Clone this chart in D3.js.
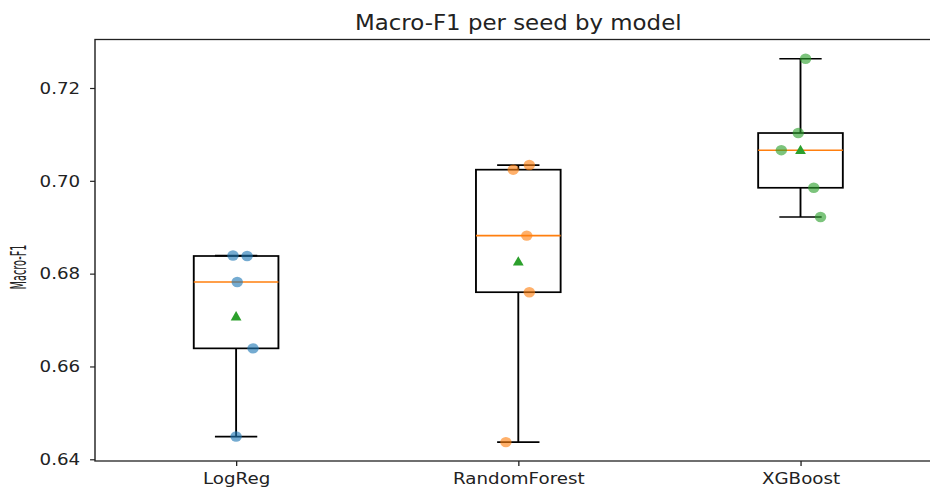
<!DOCTYPE html>
<html>
<head>
<meta charset="utf-8">
<script src="https://cdn.jsdelivr.net/npm/d3@7"></script>
<style>
  html, body { margin: 0; padding: 0; background: #fff; }
  svg { display: block; }
  text { font-family: "DejaVu Sans", sans-serif; fill: #222; }
</style>
</head>
<body>
<div id="chart"></div>
<script>
// per-seed Macro-F1 scores
const models = ["LogReg", "RandomForest", "XGBoost"];
const logregScores = [0.6839, 0.6838, 0.6782, 0.6639, 0.6449];
const forestScores = [0.7034, 0.7024, 0.6882, 0.6760, 0.6437];
const xgbScores = [0.7263, 0.7103, 0.7066, 0.6985, 0.6922];
// horizontal jitter of each seed point, in category units
const logregJitter = [-0.011, 0.039, 0.004, 0.06, 0.0];
const forestJitter = [0.039, -0.018, 0.030, 0.039, -0.044];
const xgbJitter = [0.018, -0.008, -0.068, 0.047, 0.071];
const yTicks = [0.64, 0.66, 0.68, 0.70, 0.72];
const yLimits = [0.63963, 0.73045];
const pointColors = ["#1f77b4", "#ff7f0e", "#2ca02c"];

const scores = [logregScores, forestScores, xgbScores];
const jitters = [logregJitter, forestJitter, xgbJitter];

// the picture is stretched horizontally, so draw in a narrower frame
const sx = 1.1;
const W = 930, H = 489;
const innerW = W / sx;

const svg = d3.select("#chart").append("svg")
  .attr("width", W)
  .attr("height", H)
  .attr("viewBox", `0 0 ${innerW} ${H}`)
  .attr("preserveAspectRatio", "none");

const x = d3.scaleLinear().domain([0.5, 3.5]).range([95 / sx, 941.6 / sx]);
const y = d3.scaleLinear().domain(yLimits).range([461, 39.5]);

const boxW = 0.3, capW = 0.15;

const stats = scores.map((vals, i) => {
  const s = vals.slice().sort(d3.ascending);
  const q1 = d3.quantile(s, 0.25), med = d3.quantile(s, 0.5), q3 = d3.quantile(s, 0.75);
  const iqr = q3 - q1;
  const inside = s.filter((v) => v >= q1 - 1.5 * iqr && v <= q3 + 1.5 * iqr);
  return {
    pos: i + 1, q1, med, q3,
    lo: d3.min(inside), hi: d3.max(inside),
    mean: d3.mean(vals),
  };
});

const g = svg.append("g");

// whiskers and caps
stats.forEach((d) => {
  const bx = g.append("g").attr("stroke", "#000").attr("stroke-width", 1.7).attr("fill", "none");
  bx.append("line").attr("x1", x(d.pos)).attr("x2", x(d.pos)).attr("y1", y(d.q1)).attr("y2", y(d.lo));
  bx.append("line").attr("x1", x(d.pos)).attr("x2", x(d.pos)).attr("y1", y(d.q3)).attr("y2", y(d.hi));
  bx.append("line").attr("x1", x(d.pos - capW / 2)).attr("x2", x(d.pos + capW / 2)).attr("y1", y(d.lo)).attr("y2", y(d.lo));
  bx.append("line").attr("x1", x(d.pos - capW / 2)).attr("x2", x(d.pos + capW / 2)).attr("y1", y(d.hi)).attr("y2", y(d.hi));
  bx.append("rect")
    .attr("x", x(d.pos - boxW / 2))
    .attr("width", x(d.pos + boxW / 2) - x(d.pos - boxW / 2))
    .attr("y", y(d.q3))
    .attr("height", y(d.q1) - y(d.q3));
  g.append("line")
    .attr("x1", x(d.pos - boxW / 2)).attr("x2", x(d.pos + boxW / 2))
    .attr("y1", y(d.med)).attr("y2", y(d.med))
    .attr("stroke", "#ff7f0e").attr("stroke-width", 1.6);
});

// mean markers
const triW = 9.8, triH = 9.4;
g.selectAll(".mean")
  .data(stats)
  .join("path")
  .attr("class", "mean")
  .attr("d", (d) => {
    const cx = x(d.pos), cy = y(d.mean);
    return `M${cx},${cy - triH / 2}L${cx + triW / 2},${cy + triH / 2}L${cx - triW / 2},${cy + triH / 2}Z`;
  })
  .attr("fill", "#2ca02c");

// seed points
scores.forEach((vals, i) => {
  g.selectAll(`.pt${i}`)
    .data(vals.map((v, j) => ({ v, dx: jitters[i][j] })))
    .join("circle")
    .attr("class", `pt${i}`)
    .attr("cx", (d) => x(i + 1 + d.dx))
    .attr("cy", (d) => y(d.v))
    .attr("r", 5.2)
    .attr("fill", pointColors[i])
    .attr("fill-opacity", 0.62);
});

// spines
const frame = svg.append("g").attr("stroke", "#222").attr("stroke-width", 1.3).attr("fill", "none");
frame.append("rect")
  .attr("x", x(0.5)).attr("y", y(yLimits[1]))
  .attr("width", x(3.5) - x(0.5)).attr("height", y(yLimits[0]) - y(yLimits[1]));

// axes
const yAxis = svg.append("g")
  .attr("transform", `translate(${x(0.5)},0)`)
  .call(d3.axisLeft(y).tickValues(yTicks).tickFormat(d3.format(".2f")).tickSize(4.5).tickPadding(9));
const xAxis = svg.append("g")
  .attr("transform", `translate(0,${y(yLimits[0])})`)
  .call(d3.axisBottom(x).tickValues([1, 2, 3]).tickFormat((d) => models[d - 1]).tickSize(5).tickPadding(6.3));

[yAxis, xAxis].forEach((ax) => {
  ax.select(".domain").remove();
  ax.selectAll(".tick line").attr("stroke", "#222").attr("stroke-width", 1.2);
  ax.selectAll(".tick text")
    .style("font-family", "DejaVu Sans, sans-serif")
    .style("font-size", "16.6px")
    .attr("fill", "#222");
});

svg.append("text")
  .attr("x", (x(0.5) + x(3.5)) / 2)
  .attr("y", 30)
  .attr("text-anchor", "middle")
  .style("font-size", "20.8px")
  .text("Macro-F1 per seed by model");

svg.append("text")
  .attr("transform", `translate(${25.5 / sx},267) rotate(-90)`)
  .attr("text-anchor", "middle")
  .attr("textLength", 45)
  .attr("lengthAdjust", "spacingAndGlyphs")
  .style("font-size", "19px")
  .text("Macro-F1");
</script>
</body>
</html>
